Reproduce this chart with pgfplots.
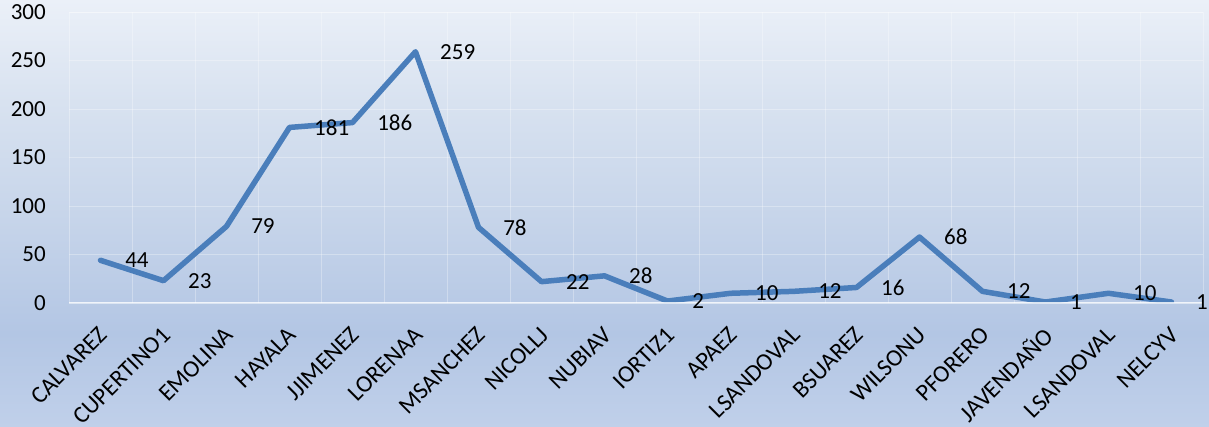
\documentclass[border=0pt]{standalone}
\usepackage{fontspec}
\setmainfont{Carlito}
\usepackage{pgfplots}
\pgfplotsset{compat=1.18}
\definecolor{bgtop}{HTML}{EBF0F8}
\definecolor{bgA}{HTML}{D8E2F0}
\definecolor{bgmid}{HTML}{C7D5EA}
\definecolor{bgdark}{HTML}{B3C6E4}
\definecolor{bgbot}{HTML}{C0D0EA}
\definecolor{linecol}{HTML}{4A7EBB}
\pgfdeclareverticalshading{bgshade}{100bp}{color(0bp)=(bgbot); color(25bp)=(bgbot); color(36bp)=(bgdark); color(50bp)=(bgmid); color(63bp)=(bgA); color(75bp)=(bgtop); color(100bp)=(bgtop)}
\begin{document}
\begin{tikzpicture}[x=1pt,y=1pt]
\useasboundingbox (0,0) rectangle (1209,427);
\shade[shading=bgshade] (0,0) rectangle (1209,427);
\begin{axis}[
  at={(69pt,124pt)}, anchor=south west,
  scale only axis, width=1134pt, height=291pt,
  xmin=-0.5, xmax=17.5, ymin=0, ymax=300,
  ytick={0,50,...,300},
  xtick={0,...,17},
  xticklabels={CALVAREZ,CUPERTINO1,EMOLINA,HAYALA,JJIMENEZ,LORENAA,MSANCHEZ,NICOLLJ,NUBIAV,IORTIZ1,APAEZ,LSANDOVAL,BSUAREZ,WILSONU,PFORERO,JAVENDAÑO,LSANDOVAL,NELCYV},
  minor xtick={0.5,1.5,...,16.5},
  xminorgrids, ymajorgrids,
  major grid style={white, opacity=0.3, line width=0.8pt},
  minor grid style={white, opacity=0.3, line width=0.8pt},
  major tick length=0pt, minor tick length=0pt,
  axis line style={white, opacity=0.3, line width=0.8pt},
  /pgf/number format/assume math mode=true,
  yticklabel style={inner sep=0pt, xshift=-23pt, font=\fontsize{23}{27}\selectfont, text=black},
  xticklabel style={inner sep=0pt, xshift=3pt, yshift=-28pt, rotate=45, anchor=east, font=\fontsize{24}{28}\selectfont, text=black},
  nodes near coords,
  nodes near coords style={anchor=west, inner sep=0pt, xshift=22pt, font=\fontsize{23}{27}\selectfont, text=black},
]
\addplot[linecol, line width=5.5pt, line join=round, line cap=round] coordinates {
(0,44) (1,23) (2,79) (3,181) (4,186) (5,259) (6,78) (7,22) (8,28) (9,2) (10,10) (11,12) (12,16) (13,68) (14,12) (15,1) (16,10) (17,1)
};
\draw[white, line width=1pt, opacity=0.8] (axis cs:-0.5,0) -- (axis cs:17.5,0);
\end{axis}
\end{tikzpicture}
\end{document}
